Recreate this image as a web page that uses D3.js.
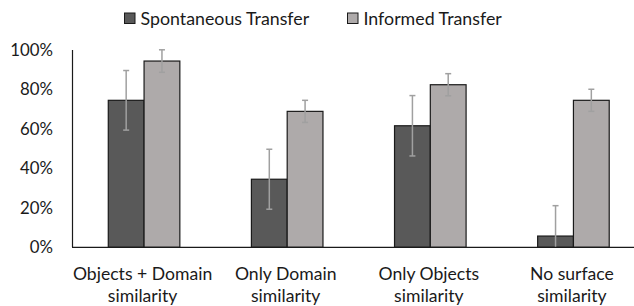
<!DOCTYPE html>
<html>
<head>
<meta charset="utf-8">
<script src="https://cdn.jsdelivr.net/npm/d3@7"></script>
<style>
  body { margin: 0; background: #fff; }
  text { font-family: Lato, "Open Sans", sans-serif; fill: #1a1a1a; }
</style>
</head>
<body>
<div id="chart"></div>
<script>
// data
const categories = [
  ['Objects + Domain', 'similarity'],
  ['Only Domain', 'similarity'],
  ['Only Objects', 'similarity'],
  ['No surface', 'similarity'],
];
const seriesNames = ['Spontaneous Transfer', 'Informed Transfer'];
const spontaneous = [74.5, 34.5, 61.6, 5.7];
const spontaneousErr = [15.1, 15.2, 15.3, 15.4];
const informed = [94.4, 68.9, 82.4, 74.5];
const informedErr = [5.7, 5.6, 5.6, 5.6];
const yTicks = [0, 20, 40, 60, 80, 100];

const width = 634;
const height = 306;
const colors = ['#595959', '#aeaaaa'];

const svg = d3
  .select('#chart')
  .append('svg')
  .attr('width', width)
  .attr('height', height);

const x = d3
  .scaleBand()
  .domain(d3.range(categories.length))
  .range([72.5, 645])
  .paddingInner(0.5)
  .paddingOuter(0.25);

const xs = d3
  .scaleBand()
  .domain([0, 1])
  .range([0, x.bandwidth()]);

const y = d3.scaleLinear().domain([0, 100]).range([247.3, 50]);

// y tick labels
svg
  .append('g')
  .selectAll('text')
  .data(yTicks)
  .join('text')
  .attr('x', 53)
  .attr('y', (d) => y(d))
  .attr('dy', '0.35em')
  .attr('text-anchor', 'end')
  .attr('font-size', 16.8)
  .text((d) => d + '%');

// bars
const rows = categories.map((c, i) => [
  { s: 0, i, v: spontaneous[i], e: spontaneousErr[i] },
  { s: 1, i, v: informed[i], e: informedErr[i] },
]);

const groups = svg
  .append('g')
  .selectAll('g')
  .data(rows)
  .join('g')
  .attr('transform', (d, i) => `translate(${x(i)},0)`);

groups
  .selectAll('rect')
  .data((d) => d)
  .join('rect')
  .attr('x', (d) => xs(d.s))
  .attr('y', (d) => y(d.v))
  .attr('width', xs.bandwidth())
  .attr('height', (d) => y(0) - y(d.v))
  .attr('fill', (d) => colors[d.s])
  .attr('stroke', '#1a1a1a')
  .attr('stroke-width', 1.2);

// error bars
const err = groups
  .selectAll('g.err')
  .data((d) => d)
  .join('g')
  .attr('class', 'err')
  .attr('stroke', '#a0a0a0')
  .attr('stroke-width', 1.5);

const cx = (d) => xs(d.s) + xs.bandwidth() / 2;
err
  .append('line')
  .attr('x1', cx)
  .attr('x2', cx)
  .attr('y1', (d) => y(d.v + d.e))
  .attr('y2', (d) => y(Math.max(0, d.v - d.e)));
err
  .append('line')
  .attr('x1', (d) => cx(d) - 3)
  .attr('x2', (d) => cx(d) + 3)
  .attr('y1', (d) => y(d.v + d.e))
  .attr('y2', (d) => y(d.v + d.e));
err
  .filter((d) => d.v - d.e > 0)
  .append('line')
  .attr('x1', (d) => cx(d) - 3)
  .attr('x2', (d) => cx(d) + 3)
  .attr('y1', (d) => y(d.v - d.e))
  .attr('y2', (d) => y(d.v - d.e));

// axes lines
svg
  .append('line')
  .attr('x1', 72.5)
  .attr('x2', 72.5)
  .attr('y1', y(100))
  .attr('y2', y(0))
  .attr('stroke', '#1a1a1a')
  .attr('stroke-width', 1.2);
svg
  .append('line')
  .attr('x1', 72)
  .attr('x2', width)
  .attr('y1', y(0))
  .attr('y2', y(0))
  .attr('stroke', '#1a1a1a')
  .attr('stroke-width', 1.2);

// category labels
const lab = svg
  .append('g')
  .selectAll('text')
  .data(categories)
  .join('text')
  .attr('text-anchor', 'middle')
  .attr('font-size', 17.6)
  .attr('transform', (d, i) => `translate(${x(i) + x.bandwidth() / 2 - 1.5},280)`);
lab
  .selectAll('tspan')
  .data((d) => d)
  .join('tspan')
  .attr('x', 0)
  .attr('y', (d, j) => j * 21.5)
  .text((d) => d);

// legend
const legendX = [124.5, 347.5];
const legend = svg
  .append('g')
  .selectAll('g')
  .data(seriesNames)
  .join('g')
  .attr('transform', (d, i) => `translate(${legendX[i]},13)`);
legend
  .append('rect')
  .attr('width', 10.5)
  .attr('height', 10.5)
  .attr('fill', (d, i) => colors[i])
  .attr('stroke', '#1a1a1a')
  .attr('stroke-width', 1);
legend
  .append('text')
  .attr('x', 16)
  .attr('y', 5.5)
  .attr('dy', '0.35em')
  .attr('font-size', 17.8)
  .text((d) => d);
</script>
</body>
</html>
